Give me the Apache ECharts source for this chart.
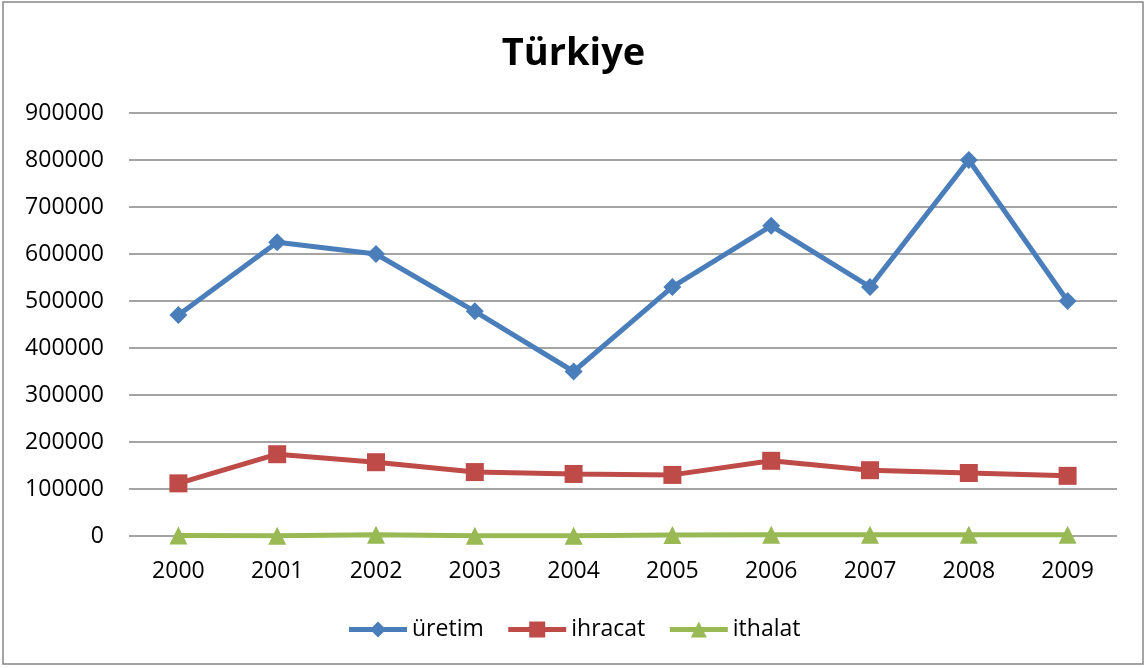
<!DOCTYPE html>
<html><head><meta charset="utf-8">
<script src="https://cdn.jsdelivr.net/npm/echarts@6/dist/echarts.min.js"></script>
<style>html,body{margin:0;padding:0;background:#fff}#c{width:1147px;height:668px}</style>
</head><body><div id="c"></div>
<script>
const categories = ['2000','2001','2002','2003','2004','2005','2006','2007','2008','2009'];
const uretim = [470000, 625000, 600000, 478000, 350000, 530000, 660000, 530000, 800000, 500000];
const ihracat = [112000, 174000, 157000, 136000, 132000, 130000, 160000, 140000, 134000, 128000];
const ithalat = [1000, 500, 2500, 500, 300, 2000, 2500, 2500, 2500, 2500];
const yTicks = [0, 100000, 200000, 300000, 400000, 500000, 600000, 700000, 800000, 900000];
const font = '"Open Sans", "Noto Sans", sans-serif';
const chart = echarts.init(document.getElementById('c'));
chart.setOption({
  animation: false,
  backgroundColor: '#fff',
  graphic: [{type:'rect', shape:{x:3,y:2,width:1140,height:662}, style:{fill:'none', stroke:'#868686', lineWidth:1.5}}],
  title: {text:'Türkiye', left:'center', top:30, textStyle:{fontFamily:font, fontSize:38, fontWeight:'bold', color:'#000'}},
  legend: {bottom:22, left:'center', itemWidth:58, itemHeight:20, itemGap:22,
    lineStyle:{width:5},
    textStyle:{fontFamily:font, fontSize:23, color:'#000'},
    data:['üretim','ihracat','ithalat']},
  grid: {left:129, right:30, top:113, bottom:132},
  xAxis: {type:'category', data:categories, boundaryGap:true,
    axisLine:{show:false}, axisTick:{show:false},
    axisLabel:{fontFamily:font, fontSize:23, color:'#000', margin:24}},
  yAxis: {type:'value', min:yTicks[0], max:yTicks[yTicks.length-1], interval:100000,
    axisLine:{show:false}, axisTick:{show:false},
    axisLabel:{fontFamily:font, fontSize:23, color:'#000', margin:25, formatter: v => String(v)},
    splitLine:{lineStyle:{color:'#868686', width:1.5}}},
  series: [
    {name:'üretim', type:'line', data:uretim, symbol:'diamond', symbolSize:18,
      lineStyle:{width:5, color:'#4A7EBB'}, itemStyle:{color:'#4A7EBB'}},
    {name:'ihracat', type:'line', data:ihracat, symbol:'rect', symbolSize:18,
      lineStyle:{width:5, color:'#BE4B48'}, itemStyle:{color:'#BE4B48'}},
    {name:'ithalat', type:'line', data:ithalat, symbol:'triangle', symbolSize:18,
      lineStyle:{width:5, color:'#98B954'}, itemStyle:{color:'#98B954'}}
  ]
});
</script></body></html>
